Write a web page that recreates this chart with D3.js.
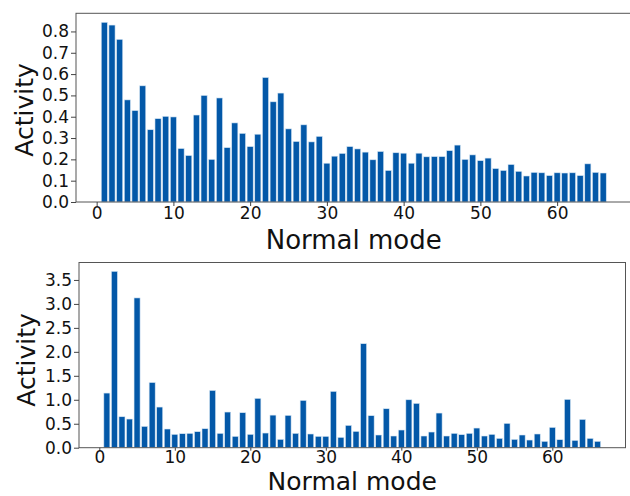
<!DOCTYPE html>
<html>
<head>
<meta charset="utf-8">
<script src="https://cdn.jsdelivr.net/npm/d3@7"></script>
<style>
  html, body { margin: 0; padding: 0; background: #fff; }
  svg { display: block; font-family: "DejaVu Sans", sans-serif; }
  .axis path, .axis line { stroke: #444; }
  .axis text { fill: #111; font-size: 17px; font-family: "DejaVu Sans", sans-serif; }
</style>
</head>
<body>
<div id="chart"></div>
<script>
// Normal mode index (bars 1..66)
const modes = d3.range(1, 67);

// Upper panel activity per normal mode
const topActivity = [
  0.843, 0.830, 0.763, 0.479, 0.429, 0.545, 0.339, 0.391, 0.402, 0.399,
  0.251, 0.218, 0.408, 0.500, 0.200, 0.488, 0.255, 0.371, 0.322, 0.260,
  0.318, 0.584, 0.470, 0.511, 0.343, 0.284, 0.362, 0.282, 0.308, 0.182,
  0.215, 0.228, 0.260, 0.249, 0.234, 0.198, 0.237, 0.148, 0.231, 0.229,
  0.182, 0.229, 0.212, 0.213, 0.213, 0.241, 0.267, 0.200, 0.221, 0.194,
  0.206, 0.157, 0.148, 0.176, 0.144, 0.122, 0.139, 0.137, 0.124, 0.137,
  0.136, 0.137, 0.124, 0.179, 0.139, 0.136
];

// Lower panel activity per normal mode
const bottomActivity = [
  1.14, 3.68, 0.646, 0.598, 3.125, 0.445, 1.36, 0.848, 0.39, 0.279,
  0.292, 0.30, 0.334, 0.396, 1.195, 0.30, 0.744, 0.237, 0.73, 0.279,
  1.03, 0.306, 0.68, 0.174, 0.675, 0.30, 0.987, 0.286, 0.237, 0.237,
  1.175, 0.216, 0.466, 0.341, 2.17, 0.668, 0.265, 0.813, 0.244, 0.369,
  1.0, 0.925, 0.244, 0.327, 0.723, 0.244, 0.30, 0.272, 0.30, 0.41,
  0.244, 0.279, 0.195, 0.508, 0.174, 0.265, 0.16, 0.286, 0.133, 0.424,
  0.167, 1.008, 0.153, 0.59, 0.195, 0.133
];

const xTicks = [0, 10, 20, 30, 40, 50, 60];
const topYTicks = [0, 0.1, 0.2, 0.3, 0.4, 0.5, 0.6, 0.7, 0.8];
const bottomYTicks = [0, 0.5, 1.0, 1.5, 2.0, 2.5, 3.0, 3.5];

const W = 630, H = 496;
const barColor = '#0358a8';

const svg = d3.select('#chart').append('svg')
  .attr('width', W)
  .attr('height', H);

function drawPanel(values, yTicks, box) {
  // matplotlib-like autoscale: bar extent plus 5% margins
  const xMin = 1 - 0.4, xMax = modes.length + 0.4;
  const pad = (xMax - xMin) * 0.05;
  const x = d3.scaleLinear()
    .domain([xMin - pad, xMax + pad])
    .range([box.left, box.right]);
  const y = d3.scaleLinear()
    .domain([0, d3.max(values) * 1.05])
    .range([box.bottom, box.top]);

  const g = svg.append('g');

  const barW = x(0.8) - x(0);
  g.selectAll('rect.bar')
    .data(modes)
    .enter()
    .append('rect')
    .attr('class', 'bar')
    .attr('x', d => x(d) - barW / 2)
    .attr('y', (d, i) => y(values[i]))
    .attr('width', barW)
    .attr('height', (d, i) => y(0) - y(values[i]))
    .attr('fill', barColor)
    .attr('stroke', '#d6e6f4')
    .attr('stroke-width', 0.6);

  // frame
  g.append('rect')
    .attr('x', box.left)
    .attr('y', box.top)
    .attr('width', box.right - box.left)
    .attr('height', box.bottom - box.top)
    .attr('fill', 'none')
    .attr('stroke', '#555')
    .attr('stroke-width', 1);

  const xAxis = g.append('g')
    .attr('class', 'axis')
    .attr('transform', `translate(0,${box.bottom})`)
    .call(d3.axisBottom(x).tickValues(xTicks).tickSize(box.xTickSize).tickPadding(box.xTickPad).tickFormat(d3.format('d')));
  xAxis.select('.domain').remove();

  const yAxis = g.append('g')
    .attr('class', 'axis')
    .attr('transform', `translate(${box.left},0)`)
    .call(d3.axisLeft(y).tickValues(yTicks).tickSize(5).tickPadding(2).tickFormat(d3.format('.1f')));
  yAxis.select('.domain').remove();

  g.append('text')
    .attr('transform', `translate(${box.ylabelX},${box.ylabelY}) rotate(-90)`)
    .attr('text-anchor', 'middle')
    .style('font-size', '25px')
    .attr('fill', '#111')
    .text('Activity');

  g.append('text')
    .attr('x', (box.left + box.right) / 2)
    .attr('y', box.xlabelY)
    .attr('text-anchor', 'middle')
    .style('font-size', box.xlabelSize + 'px')
    .attr('fill', '#111')
    .text('Normal mode');
}

drawPanel(topActivity, topYTicks, {
  left: 76, right: 631.5, top: 13.3, bottom: 202,
  ylabelX: 33, ylabelY: 110, xlabelY: 249, xlabelSize: 26,
  xTickSize: 4, xTickPad: 1
});

drawPanel(bottomActivity, bottomYTicks, {
  left: 79, right: 625.5, top: 262.5, bottom: 447.7,
  ylabelX: 35, ylabelY: 360, xlabelY: 490, xlabelSize: 25,
  xTickSize: 3, xTickPad: 0
});
</script>
</body>
</html>
